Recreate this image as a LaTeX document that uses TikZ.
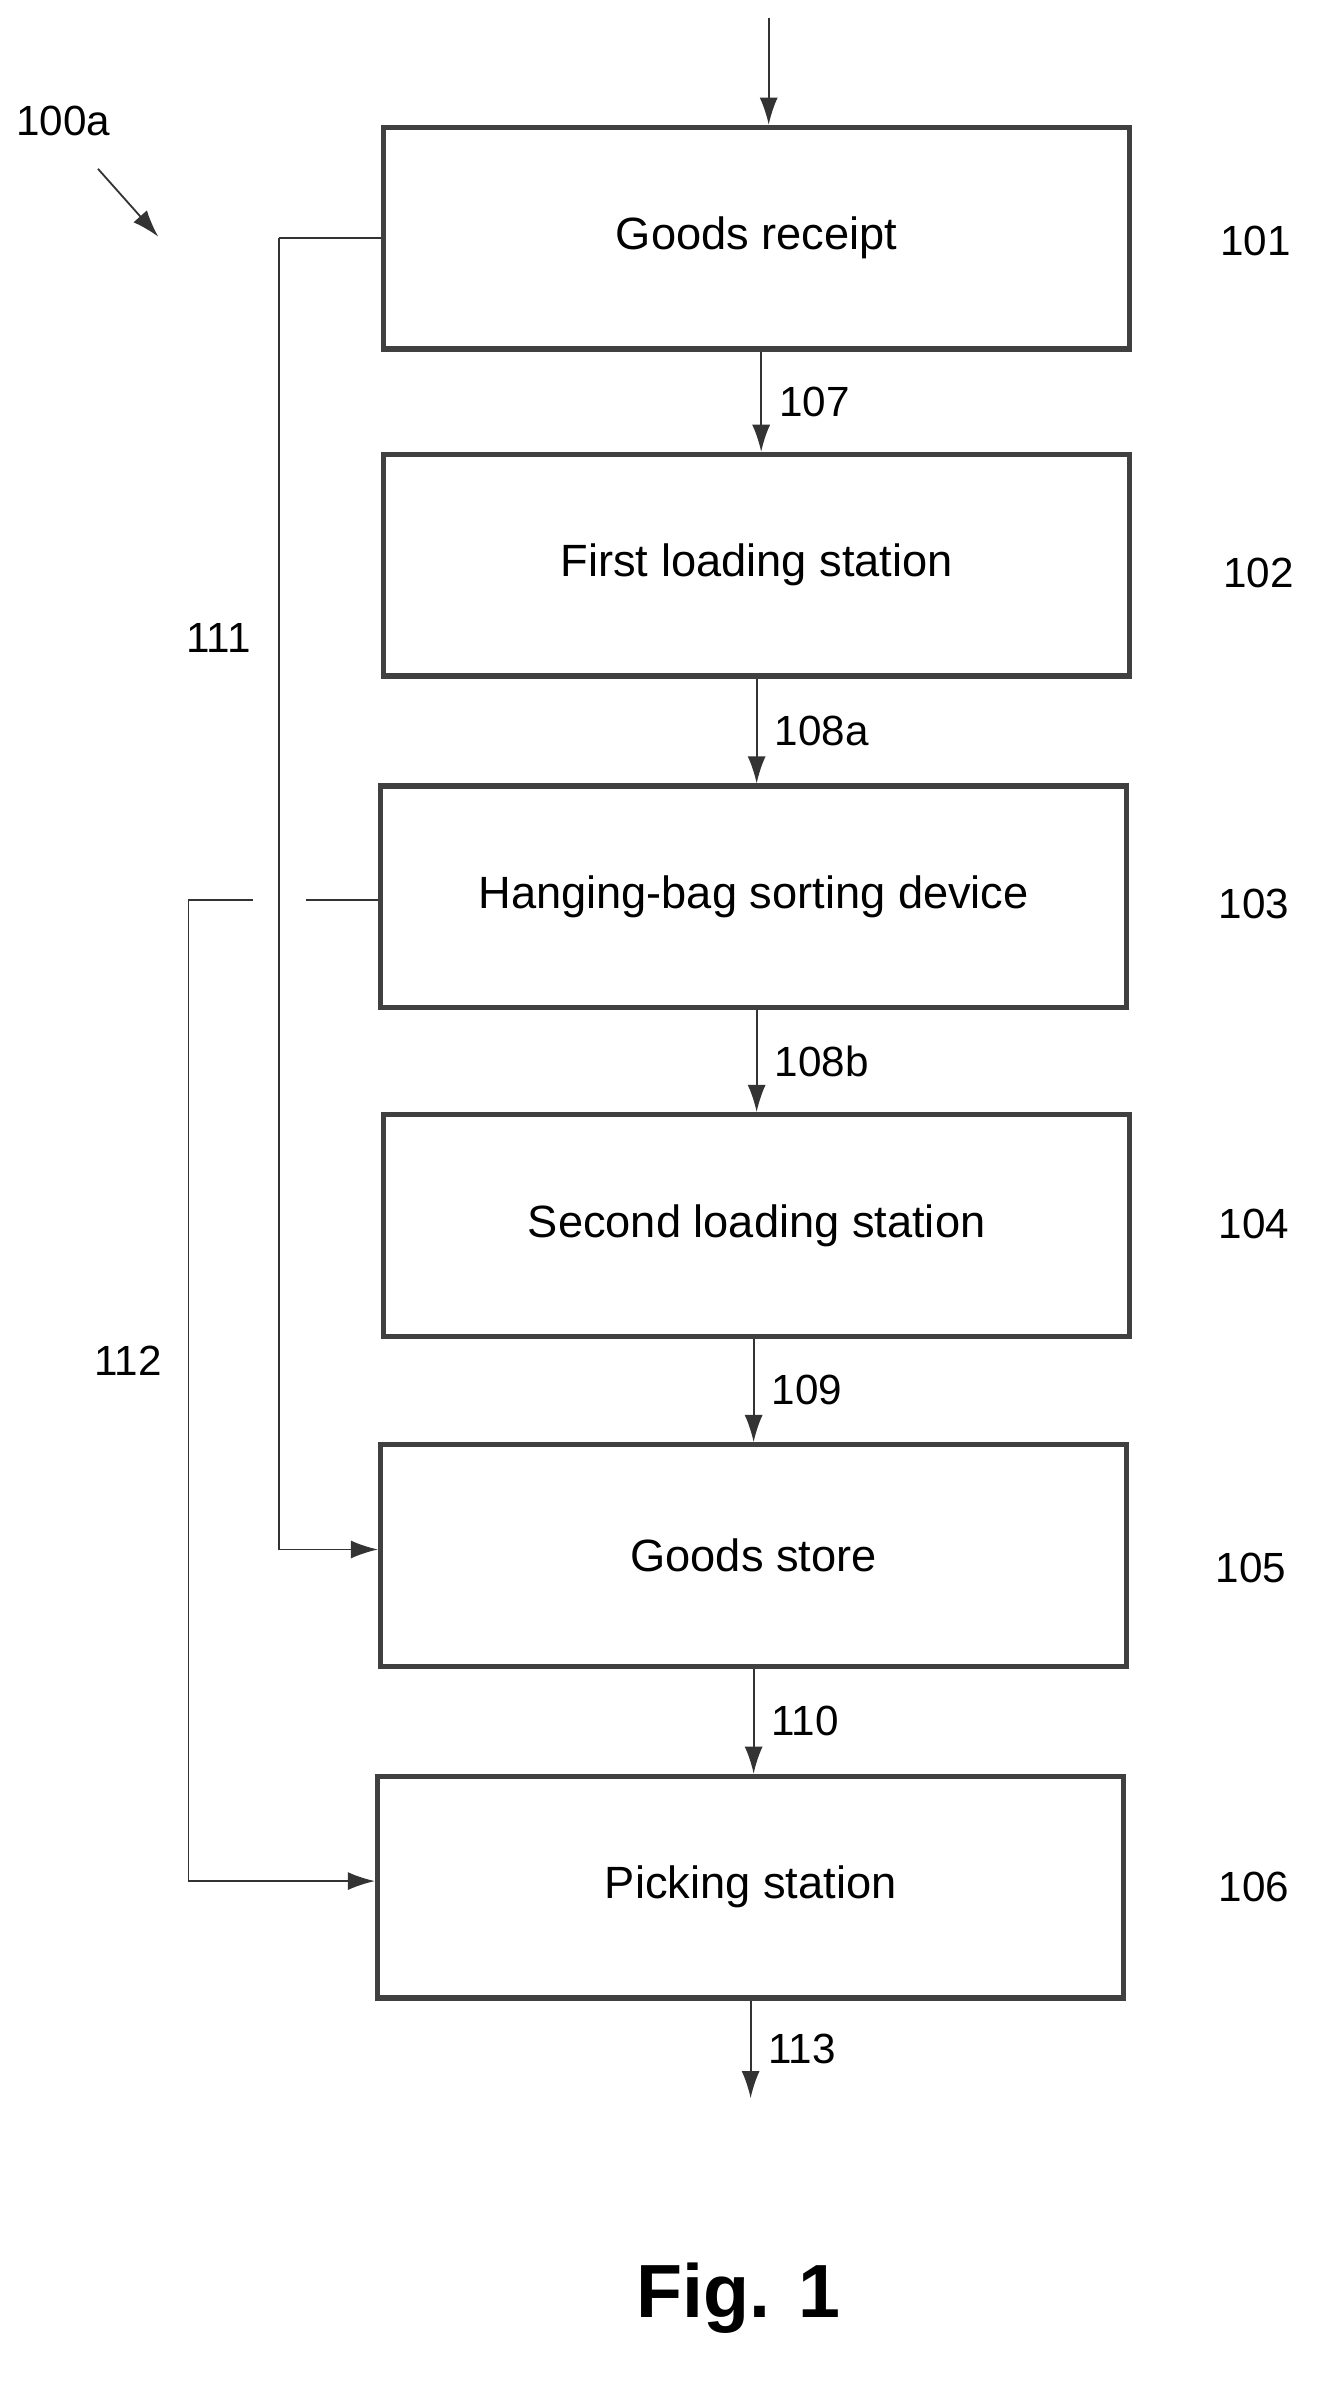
\documentclass[tikz,border=0pt]{standalone}
\usepackage{fontspec}
\setmainfont{Liberation Sans}
\usetikzlibrary{arrows.meta}
\begin{document}
\begin{tikzpicture}[x=1pt,y=-1pt,
  box/.style={draw=black!75,line width=3.5pt,minimum width=495pt,minimum height=147pt,font=\fontsize{30}{34}\selectfont},
  lab/.style={font=\fontsize{28}{32}\selectfont},
  arr/.style={draw=black!80,line width=1.2pt,-{Latex[length=18pt,width=12pt]}},
  ln/.style={draw=black!80,line width=1.2pt}]
\useasboundingbox (0,0) rectangle (880,1583);
\node[box] (b1) at (502,158) {Goods receipt};
\node[box] (b2) at (502,375) {First loading station};
\node[box] (b3) at (500,595) {Hanging-bag sorting device};
\node[box] (b4) at (502,813) {Second loading station};
\node[box] (b5) at (500,1032) {Goods store};
\node[box] (b6) at (498,1252) {Picking station};
\node[lab] (l1) at (833,160) {101};
\node[lab] (l2) at (835,380) {102};
\node[lab] (l3) at (832,600) {103};
\node[lab] (l4) at (832,812) {104};
\node[lab] (l5) at (830,1040) {105};
\node[lab] (l6) at (832,1252) {106};
\coordinate (top) at (510,12);
\draw[arr] (top) -- (b1.north -| top);
\draw[arr] (b1.south -| 505,0) -- (b2.north -| 505,0) node[lab,midway,right=8pt] {107};
\draw[arr] (b2.south -| 502,0) -- (b3.north -| 502,0) node[lab,midway,right=8pt] {108a};
\draw[arr] (b3.south -| 502,0) -- (b4.north -| 502,0) node[lab,midway,right=8pt] {108b};
\draw[arr] (b4.south -| 500,0) -- (b5.north -| 500,0) node[lab,midway,right=8pt] {109};
\draw[arr] (b5.south -| 500,0) -- (b6.north -| 500,0) node[lab,midway,right=8pt] {110};
\coordinate (out) at (498,1392);
\draw[arr] (b6.south -| out) -- (out) node[lab,midway,right=8pt] {113};
% 111
\coordinate (c1) at (185,158);
\coordinate (c2) at (185,1028);
\draw[ln] (b1.west |- c1) -- (c1);
\draw[arr] (c1) -- (c2) -- (b5.west |- c2);
\node[lab] (l111) at (145,423) {111};
% 112
\coordinate (g1) at (203,597);
\coordinate (g2) at (168,597);
\coordinate (c3) at (125,597);
\coordinate (c4) at (125,1248);
\draw[ln] (b3.west |- g1) -- (g1);
\draw[ln] (g2) -- (c3);
\draw[arr] (c3) -- (c4) -- (b6.west |- c4);
\node[lab] (l112) at (85,903) {112};
% 100a
\node[lab] (l100) at (42,80) {100a};
\coordinate (p1) at (65,112);
\coordinate (p2) at (105,157);
\draw[arr] (p1) -- (p2);
\node[font=\bfseries\fontsize{50}{56}\selectfont] (fig) at (490,1525) {Fig. 1};
\end{tikzpicture}
\end{document}
